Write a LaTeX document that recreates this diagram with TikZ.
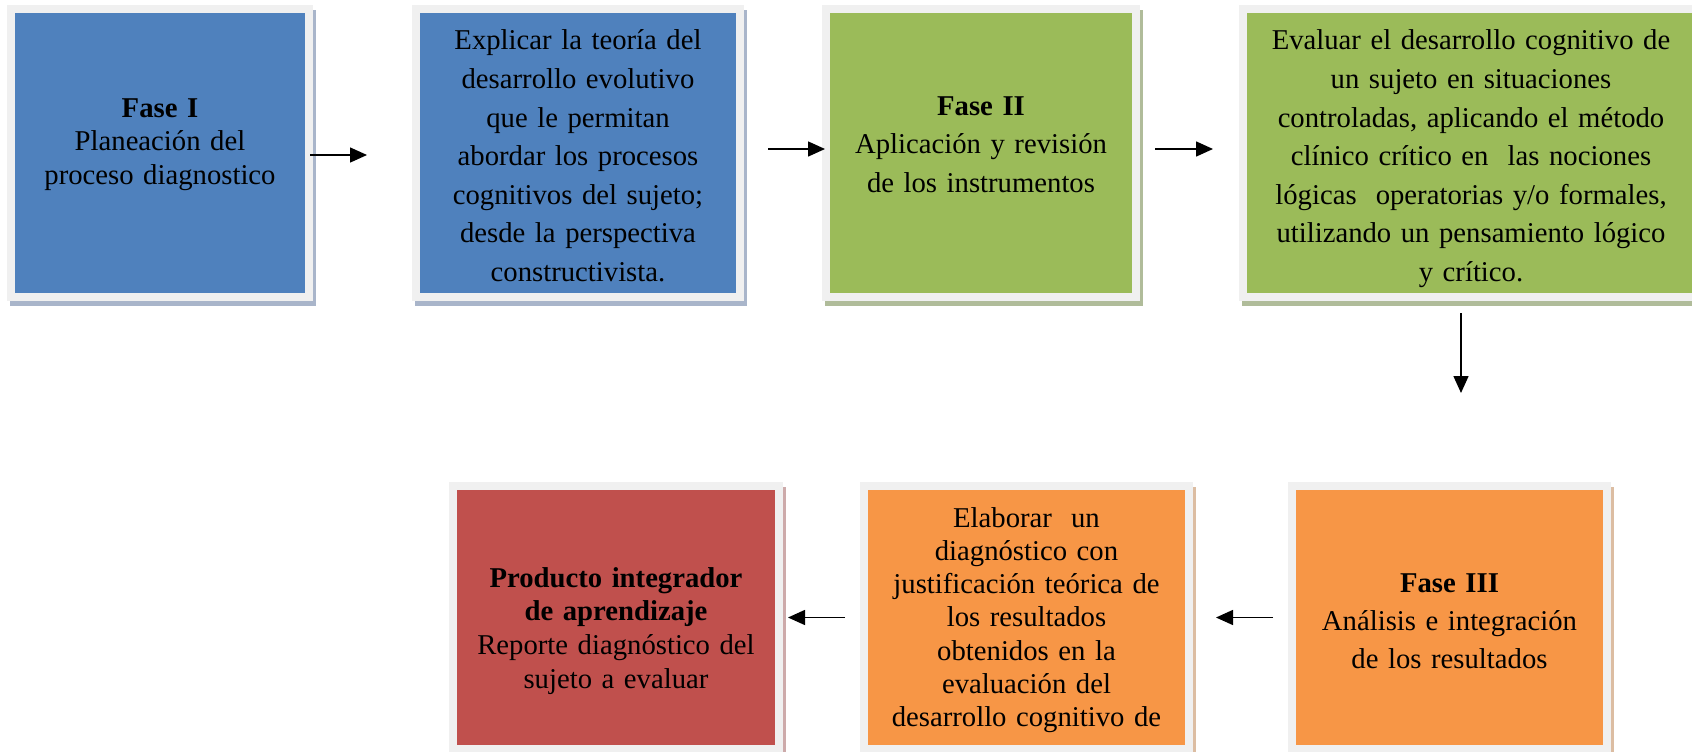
\documentclass[tikz,border=0pt]{standalone}
\usepackage{fontspec}
\setmainfont{Liberation Serif}
\usetikzlibrary{arrows.meta,backgrounds}

\definecolor{fblue}{HTML}{4F81BD}
\definecolor{fgreen}{HTML}{9BBB59}
\definecolor{forange}{HTML}{F79646}
\definecolor{fred}{HTML}{C0504D}
\definecolor{framegray}{HTML}{F0F0F0}
\definecolor{blueshd}{HTML}{A9B5CA}
\definecolor{greenshd}{HTML}{B0BC9A}
\definecolor{orangeshd}{HTML}{DCBDA2}
\definecolor{redshd}{HTML}{CDAAAA}

\tikzset{
  frame/.style={draw=framegray, line width=8pt, inner sep=0pt, outer sep=0pt},
  single/.style={font=\fontsize{28.7}{33.7}\selectfont, text width=440pt, align=center, anchor=base, inner sep=0pt},
  spaced/.style={font=\fontsize{28.7}{38.6}\selectfont, text width=440pt, align=center, anchor=base, inner sep=0pt},
  arr/.style={line width=1.5pt, -{Triangle[length=17pt,width=15pt]}}
}

\begin{document}
\begin{tikzpicture}[x=1pt,y=-1pt]
\useasboundingbox (0,0) rectangle (1692,752);

% upper row
\node[frame, fill=fblue, minimum width=298pt, minimum height=288pt] (b1) at (160,153) {};
\node[frame, fill=fblue, minimum width=324pt, minimum height=288pt] (b2) at (578,153) {};
\node[frame, fill=fgreen, minimum width=310pt, minimum height=288pt] (b3) at (981,153) {};
\node[frame, fill=fgreen, minimum width=456pt, minimum height=288pt] (b4) at (1471,153) {};

% lower row
\node[frame, fill=fred, minimum width=326pt, minimum height=263pt] (b7) at (616,617.5) {};
\node[frame, fill=forange, minimum width=325pt, minimum height=263pt] (b5) at (1026.5,617.5) {};
\node[frame, fill=forange, minimum width=315pt, minimum height=263pt] (b6) at (1449.5,617.5) {};

\begin{pgfonlayer}{background}
\fill[white] (0,0) rectangle (1692,752);
\foreach \b/\c in {b1/blueshd,b2/blueshd,b3/greenshd,b4/greenshd,b5/orangeshd,b6/orangeshd,b7/redshd}
  \fill[\c] ([shift={(-1,1)}]\b.north west) rectangle ([shift={(7,9)}]\b.south east);
\end{pgfonlayer}

% texts
\node[single] (t1) at (160,117) {\textbf{Fase I}\\Planeación del\\proceso diagnostico};
\node[spaced] (t2) at (578,50) {Explicar la teoría del\\desarrollo evolutivo\\que le permitan\\abordar los procesos\\cognitivos del sujeto;\\desde la perspectiva\\constructivista.};
\node[spaced] (t3) at (981,115) {\textbf{Fase II}\\Aplicación y revisión\\de los instrumentos};
\node[spaced] (t4) at (1471,50) {Evaluar el desarrollo cognitivo de\\un sujeto en situaciones\\controladas, aplicando el método\\clínico crítico en\ \ las nociones\\lógicas\ \ operatorias y/o formales,\\utilizando un pensamiento lógico\\y crítico.};
\node[single] (t7) at (616,587) {\textbf{Producto integrador}\\\textbf{de aprendizaje}\\Reporte diagnóstico del\\sujeto a evaluar};
\node[font=\fontsize{28.7}{33.3}\selectfont, text width=440pt, align=center, anchor=base, inner sep=0pt] (t5) at (1026.5,527) {Elaborar\ \ un\\diagnóstico con\\justificación teórica de\\los resultados\\obtenidos en la\\evaluación del\\desarrollo cognitivo de};
\node[font=\fontsize{28.7}{38}\selectfont, text width=440pt, align=center, anchor=base, inner sep=0pt] (t6) at (1449.5,592) {\textbf{Fase III}\\Análisis e integración\\de los resultados};

% connectors
\draw[arr, shorten <=1pt, shorten >=49pt] ([yshift=-2pt]b1.east) -- ([yshift=-2pt]b2.west);
\draw[arr, shorten <=28pt, shorten >=1pt] ([yshift=4pt]b2.east) -- ([yshift=4pt]b3.west);
\draw[arr, shorten <=19pt, shorten >=30pt] ([yshift=4pt]b3.east) -- ([yshift=4pt]b4.west);
\draw[arr, shorten <=16pt, shorten >=93pt] ([xshift=-10pt]b4.south) -- ([xshift=-10pt]b4.south |- b6.north);
\draw[arr, shorten <=19pt, shorten >=27pt] (b6.west) -- (b5.east);
\draw[arr, shorten <=19pt, shorten >=9pt] (b5.west) -- (b7.east);
\end{tikzpicture}
\end{document}
